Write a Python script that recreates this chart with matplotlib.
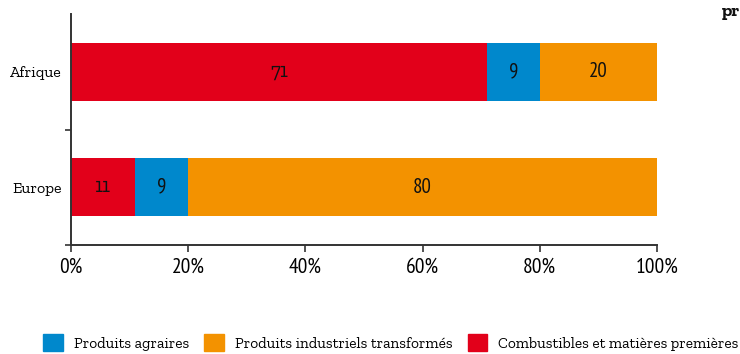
import matplotlib
matplotlib.use("Agg")
import matplotlib.pyplot as plt
from matplotlib.patches import Patch
from matplotlib import font_manager
import numpy as np

categories = ["Afrique", "Europe"]
combustibles = [71, 11]
agraires = [9, 9]
industriels = [20, 80]
xticks = [0, 20, 40, 60, 80, 100]
xtick_labels = ["0%", "20%", "40%", "60%", "80%", "100%"]
legend_labels = ["Produits agraires", "Produits industriels transformés",
                 "Combustibles et matières premières"]

RED = "#E2001A"
BLUE = "#0088CC"
ORANGE = "#F39200"

installed = {f.name for f in font_manager.fontManager.ttflist}
def pick(cands):
    out = [c for c in cands if c in installed]
    return out if out else ["DejaVu Sans"]

SANS_N = pick(["PT Sans Narrow", "Archivo Narrow", "Asap Condensed", "Liberation Sans Narrow", "DejaVu Sans"])
SERIF = pick(["Zilla Slab", "Noticia Text", "PT Serif", "Liberation Serif"])

fig = plt.figure(figsize=(7.4, 3.54), dpi=100)
ax = fig.add_axes([71/740, 1-245/354, (657-71)/740, (245-14)/354])

y = np.arange(len(categories))
h = 0.5
left = np.zeros(len(categories))
series = [(combustibles, RED, SERIF),
          (agraires, BLUE, SANS_N),
          (industriels, ORANGE, SANS_N)]
for vals, col, fam in series:
    vals = np.array(vals, dtype=float)
    ax.barh(y, vals, left=left, height=h, color=col, edgecolor="none")
    for yi, (l, v) in enumerate(zip(left, vals)):
        ax.text(l + v/2, yi, f"{int(v)}", ha="center", va="center",
                fontsize=15, family=fam, color="#111111")
    left += vals

ax.set_xlim(0, 100)
ax.set_ylim(1.5, -0.5)
ax.set_xticks(xticks)
ax.set_xticklabels(xtick_labels, family=SANS_N, fontsize=15.5)
ax.set_yticks(y)
ax.set_yticklabels(categories, family=SERIF, fontsize=11.5)
ax.set_yticks([0.5, 1.5], minor=True)
ax.tick_params(axis="y", which="major", length=0, pad=6.5)
ax.tick_params(axis="y", which="minor", length=4, width=1.2, color="#333333")
ax.tick_params(axis="x", length=5, width=1.2, color="#333333", pad=4)
for s in ["top", "right"]:
    ax.spines[s].set_visible(False)
for s in ["left", "bottom"]:
    ax.spines[s].set_color("#333333")
    ax.spines[s].set_linewidth(1.4)

handles = [Patch(color=BLUE), Patch(color=ORANGE), Patch(color=RED)]
leg = fig.legend(handles, legend_labels, loc="lower left",
                 bbox_to_anchor=(43/740, 3/354), ncol=3, frameon=False,
                 borderaxespad=0, borderpad=0,
                 prop={"family": SERIF, "size": 11},
                 handlelength=1.3, handleheight=1.3, handletextpad=0.7,
                 columnspacing=1.0)

fig.text(722/740, 1-16/354, "pr", family=SERIF, fontweight="bold",
         fontsize=13, ha="left", va="baseline", color="#111111")

fig.savefig("out.png", dpi=100)
